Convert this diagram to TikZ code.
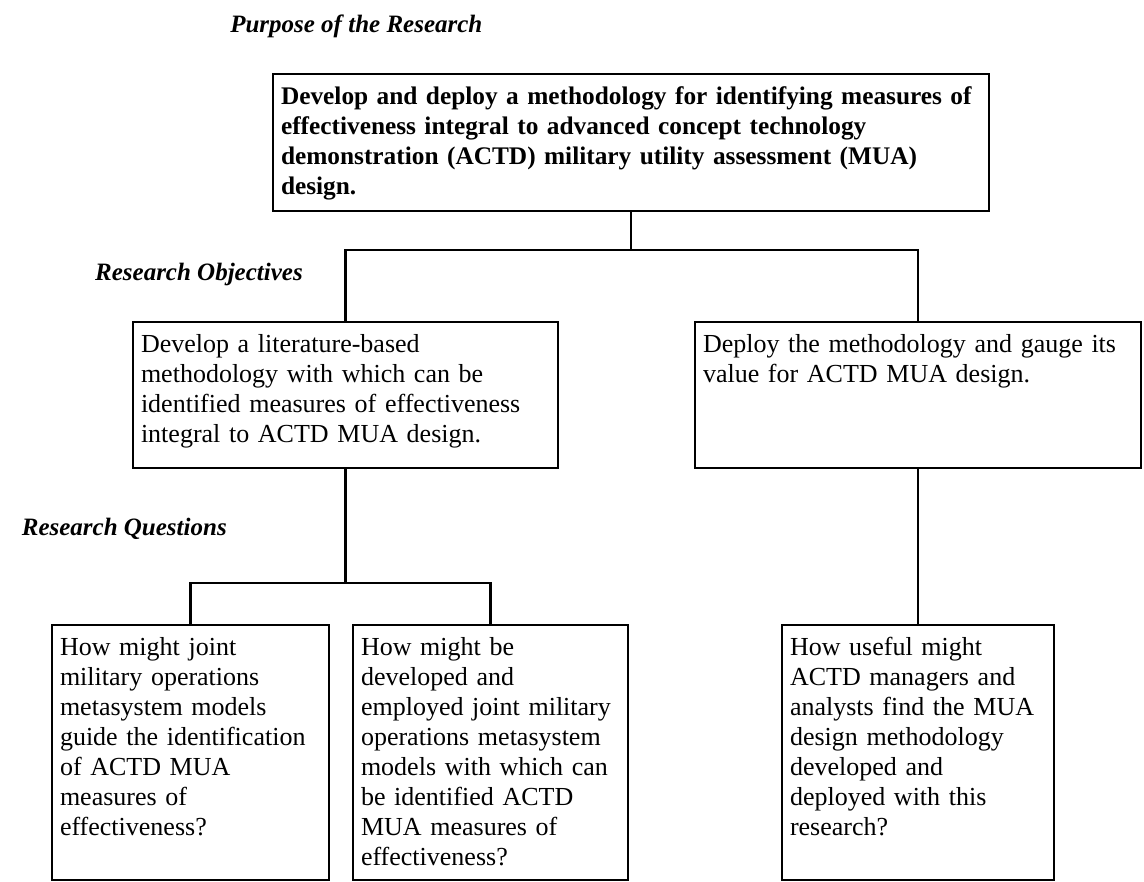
\documentclass[tikz,border=0pt]{standalone}
\usepackage{fontspec}
\setmainfont{Liberation Serif}

\tikzset{
  goalbox/.style={draw, line width=2.2pt, anchor=north west, outer sep=0pt,
    inner xsep=6pt, inner ysep=9pt, align=left, text height=13.5pt,
    font=\fontsize{19.5pt}{22.5pt}\selectfont},
  heading/.style={inner sep=0pt, font=\fontsize{18.75pt}{22pt}\selectfont\bfseries\itshape},
  link/.style={line width=2.2pt},
}

\begin{document}
\begin{tikzpicture}[x=0.75pt,y=-0.75pt]
	\useasboundingbox (0,0) rectangle (1144,881);
	
	% headings
	\node[heading, anchor=base west] (purposehead) at (230,33) {Purpose of the Research};
	\node[heading, anchor=base east] (objhead) at (303,280) {Research Objectives};
	\node[heading, anchor=base east] (queshead) at (227,535) {Research Questions};
	
	% purpose
	\node[goalbox, text width=525pt, text depth=71.25pt, font=\fontsize{19pt}{22.5pt}\selectfont\bfseries] (purpose) at (273,74)
		{Develop and deploy a methodology for identifying measures of\\
		effectiveness integral to advanced concept technology\\
		demonstration (ACTD) military utility assessment (MUA)\\
		design.};
	
	% objectives
	\node[goalbox, text width=306.75pt, text depth=78pt] (develop) at (133,322)
		{Develop a literature-based\\
		methodology with which can be\\
		identified measures of effectiveness\\
		integral to ACTD MUA design.};
	\node[goalbox, text width=322.5pt, text depth=78pt] (deploy) at (695,322)
		{Deploy the methodology and gauge its\\
		value for ACTD MUA design.};
	
	% questions
	\node[goalbox, text width=195.75pt, text depth=159.75pt] (guide) at (52,625)
		{How might joint\\
		military operations\\
		metasystem models\\
		guide the identification\\
		of ACTD MUA\\
		measures of\\
		effectiveness?};
	\node[goalbox, text width=194.25pt, text depth=159.75pt] (employ) at (353,625)
		{How might be\\
		developed and\\
		employed joint military\\
		operations metasystem\\
		models with which can\\
		be identified ACTD\\
		MUA measures of\\
		effectiveness?};
	\node[goalbox, text width=192pt, text depth=159.75pt] (useful) at (782,625)
		{How useful might\\
		ACTD managers and\\
		analysts find the MUA\\
		design methodology\\
		developed and\\
		deployed with this\\
		research?};
	
	% connectors
	\draw[link] (purpose.south) -- ++(0,39) coordinate (split1);
	\draw[link] (develop.north) |- (split1) -| (deploy.north);
	\draw[link] (develop.south) -- ++(0,115) coordinate (split2);
	\draw[link] (guide.north) |- (split2) -| (employ.north);
	\draw[link] (deploy.south) -- (useful.north);
\end{tikzpicture}
\end{document}
